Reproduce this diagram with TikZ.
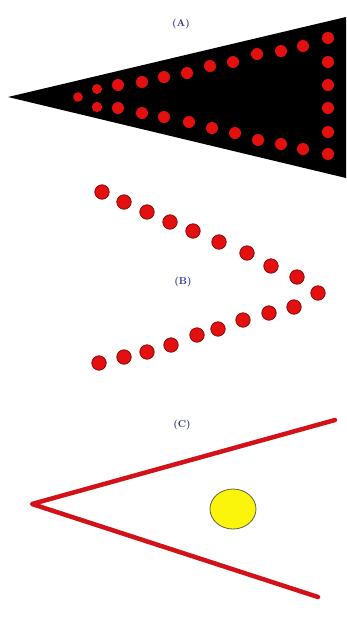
\documentclass[tikz,border=0pt]{standalone}
\usepackage{xcolor}
\usepackage{tikz}
\usetikzlibrary{positioning}

\definecolor{labelblue}{RGB}{52,52,140}
\definecolor{dotred}{RGB}{228,16,16}
\definecolor{rimred}{RGB}{130,10,10}
\definecolor{linered}{RGB}{210,18,24}
\definecolor{sunyellow}{RGB}{250,245,10}

\begin{document}
\begin{tikzpicture}[
    x=1pt, y=-1pt,
    panel/.style={text=labelblue, font=\fontsize{10}{11}\selectfont\bfseries, inner sep=0pt},
    dotA/.style={fill=dotred},
    dotB/.style={fill=dotred, draw=rimred, line width=0.8pt},
    arm/.style={draw=linered, line width=4.5pt, line cap=round, line join=round}
]
\useasboundingbox (0,0) rectangle (346,619);

% (A) black wedge with dots
\node[panel] (labA) at (181,24) {(A)};
\fill (8,97) -- (346,17) -- (346,178) -- cycle;
\fill[dotA] (78,97) circle (4.8);
\fill[dotA] (97,89) circle (5);
\fill[dotA] (97,107) circle (5.2);
\foreach \x/\y in {118/85, 142/82, 164/77, 187/73, 210/66, 233/62, 257/54, 281/51, 303/46, 328/38,
                   328/62, 328/85, 328/108, 328/132, 328/154,
                   118/108, 142/113, 164/117, 189/122, 212/128, 235/133, 258/140, 281/144, 303/149}
    \fill[dotA] (\x,\y) circle (6);

% (B) dots only
\node[panel] (labB) at (183,282) {(B)};
\foreach \x/\y in {102/192, 124/202, 147/212, 170/222, 193/231, 219/242, 247/253, 271/266, 297/277, 318/293,
                   294/307, 269/313, 243/320, 218/329, 197/335, 171/345, 147/352, 124/357, 99/363}
    \draw[dotB] (\x,\y) circle (7.2);

% (C) two arms and a ball
\node[panel] (labC) at (182,425) {(C)};
\coordinate (tipC) at (32,504);
\coordinate (topC) at (335,420);
\coordinate (botC) at (318,597);
\draw[arm] (topC) -- (tipC) -- (botC);
\draw[fill=sunyellow, draw=black!70!yellow, line width=0.8pt] (233,509) ellipse (23 and 20);
\end{tikzpicture}
\end{document}
